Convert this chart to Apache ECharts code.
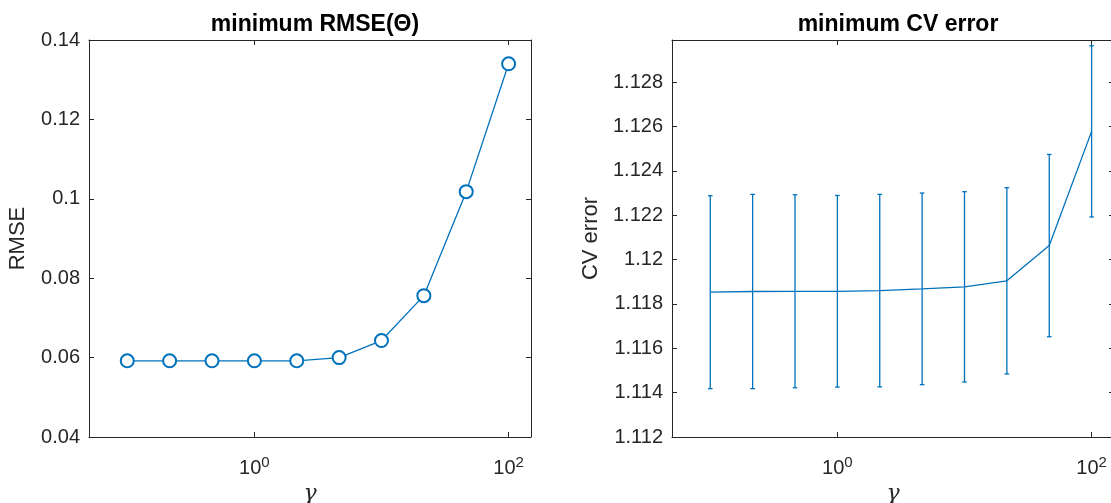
<!DOCTYPE html>
<html>
<head>
<meta charset="utf-8">
<script src="https://cdn.jsdelivr.net/npm/echarts@6/dist/echarts.min.js"></script>
<style>
html,body{margin:0;padding:0;background:#fff;}
#chart{width:1111px;height:503px;}
</style>
</head>
<body>
<div id="chart"></div>
<script>
// ---- data ----
const gamma = [0.1, 0.2154, 0.4642, 1, 2.154, 4.642, 10, 21.54, 46.42, 100];
const rmse = [0.0592, 0.0592, 0.0592, 0.0592, 0.0592, 0.0600, 0.0643, 0.0756, 0.1018, 0.1340];
const cvMean = [1.11853, 1.11856, 1.11857, 1.11857, 1.11860, 1.11868, 1.11877, 1.11904, 1.12063, 1.12578];
const cvErr = [0.00435, 0.00438, 0.00435, 0.00432, 0.00434, 0.00432, 0.00429, 0.00420, 0.00411, 0.00386];
const xTickValues = [1, 100];
const xTickExponents = ['0', '2'];
const titles = ['minimum RMSE(\u0398)', 'minimum CV error'];
const yNames = ['RMSE', 'CV error'];
const xName = '\u03b3';

const AX = '#262626';
const LINE = '#0072BD';
const FONT = 'Liberation Sans';

function fmtNum(v) { return parseFloat(v.toFixed(4)).toString(); }

function mkX(gridIndex, position, labels) {
  return {
    type: 'log', logBase: 10, gridIndex, position,
    min: 0.05, max: 150,
    name: labels ? xName : '', nameLocation: 'middle', nameGap: 37,
    nameTextStyle: { fontFamily: 'DejaVu Serif', fontStyle: 'italic', fontSize: 22, color: AX },
    axisLine: { show: true, onZero: false, lineStyle: { color: AX, width: 1 } },
    axisTick: { show: true, inside: true, length: 5, customValues: xTickValues, lineStyle: { color: AX, width: 1 } },
    minorTick: { show: false },
    axisLabel: {
      show: labels, customValues: xTickValues, margin: 18, color: AX, fontFamily: FONT,
      formatter: function (v) {
        const i = xTickValues.findIndex(t => Math.abs(t - v) / t < 1e-6);
        return i < 0 ? '' : '{b|10}{s|' + xTickExponents[i] + '}';
      },
      rich: {
        b: { fontSize: 20, color: AX, fontFamily: FONT },
        s: { fontSize: 15, color: AX, fontFamily: FONT, padding: [0, 0, 11, 0] }
      }
    },
    splitLine: { show: false }
  };
}

function mkY(gridIndex, position, labels, min, max, interval, name, nameGap) {
  return {
    type: 'value', gridIndex, position, min, max, interval,
    name: labels ? name : '', nameLocation: 'middle', nameGap,
    nameTextStyle: { fontFamily: FONT, fontSize: 22, color: AX },
    axisLine: { show: true, onZero: false, lineStyle: { color: AX, width: 1 } },
    axisTick: { show: true, inside: true, length: 5, lineStyle: { color: AX, width: 1 } },
    axisLabel: {
      show: labels, margin: 9, fontSize: 20, color: AX, fontFamily: FONT,
      formatter: function (v) {
        const k = (v - min) / interval;
        if (Math.abs(k - Math.round(k)) > 1e-6) return '';
        return fmtNum(v);
      }
    },
    splitLine: { show: false }
  };
}

const chart = echarts.init(document.getElementById('chart'), null, { renderer: 'canvas' });
const option = {
  animation: false,
  backgroundColor: '#fff',
  textStyle: { fontFamily: FONT },
  title: [
    { text: titles[0], left: 310, top: 8, textAlign: 'center', textStyle: { fontSize: 23, fontWeight: 'bold', color: '#000', fontFamily: FONT } },
    { text: titles[1], left: 893, top: 8, textAlign: 'center', textStyle: { fontSize: 23, fontWeight: 'bold', color: '#000', fontFamily: FONT } }
  ],
  grid: [
    { left: 89, right: 580, top: 40, bottom: 66, containLabel: false, outerBoundsMode: 'none' },
    { left: 672, right: -3, top: 40, bottom: 66, containLabel: false, outerBoundsMode: 'none' }
  ],
  xAxis: [mkX(0, 'bottom', true), mkX(0, 'top', false), mkX(1, 'bottom', true), mkX(1, 'top', false)],
  yAxis: [
    mkY(0, 'left', true, 0.04, 0.14, 0.02, yNames[0], 60),
    mkY(0, 'right', false, 0.04, 0.14, 0.02, '', 0),
    mkY(1, 'left', true, 1.112, 1.1299, 0.002, yNames[1], 70),
    mkY(1, 'right', false, 1.112, 1.1299, 0.002, '', 0)
  ],
  series: [
    {
      type: 'line', xAxisIndex: 0, yAxisIndex: 0,
      data: gamma.map((g, i) => [g, rmse[i]]),
      symbol: 'emptyCircle', symbolSize: 13,
      lineStyle: { color: LINE, width: 1.3 },
      itemStyle: { color: LINE, borderColor: LINE, borderWidth: 1.2 }
    },
    {
      type: 'custom', xAxisIndex: 2, yAxisIndex: 2,
      data: gamma.map((g, i) => [g, cvMean[i], cvErr[i]]),
      encode: { x: 0, y: 1 },
      renderItem: function (params, api) {
        const x = api.value(0), m = api.value(1), e = api.value(2);
        const top = api.coord([x, m + e]);
        const bot = api.coord([x, m - e]);
        const hw = 2.3;
        const st = { stroke: LINE, lineWidth: 1.3 };
        return {
          type: 'group',
          children: [
            { type: 'line', shape: { x1: top[0], y1: top[1], x2: bot[0], y2: bot[1] }, style: st },
            { type: 'line', shape: { x1: top[0] - hw, y1: top[1], x2: top[0] + hw, y2: top[1] }, style: st },
            { type: 'line', shape: { x1: bot[0] - hw, y1: bot[1], x2: bot[0] + hw, y2: bot[1] }, style: st }
          ]
        };
      },
      z: 2
    },
    {
      type: 'line', xAxisIndex: 2, yAxisIndex: 2,
      data: gamma.map((g, i) => [g, cvMean[i]]),
      symbol: 'none',
      lineStyle: { color: LINE, width: 1.3 },
      z: 3
    }
  ]
};
chart.setOption(option);
</script>
</body>
</html>
